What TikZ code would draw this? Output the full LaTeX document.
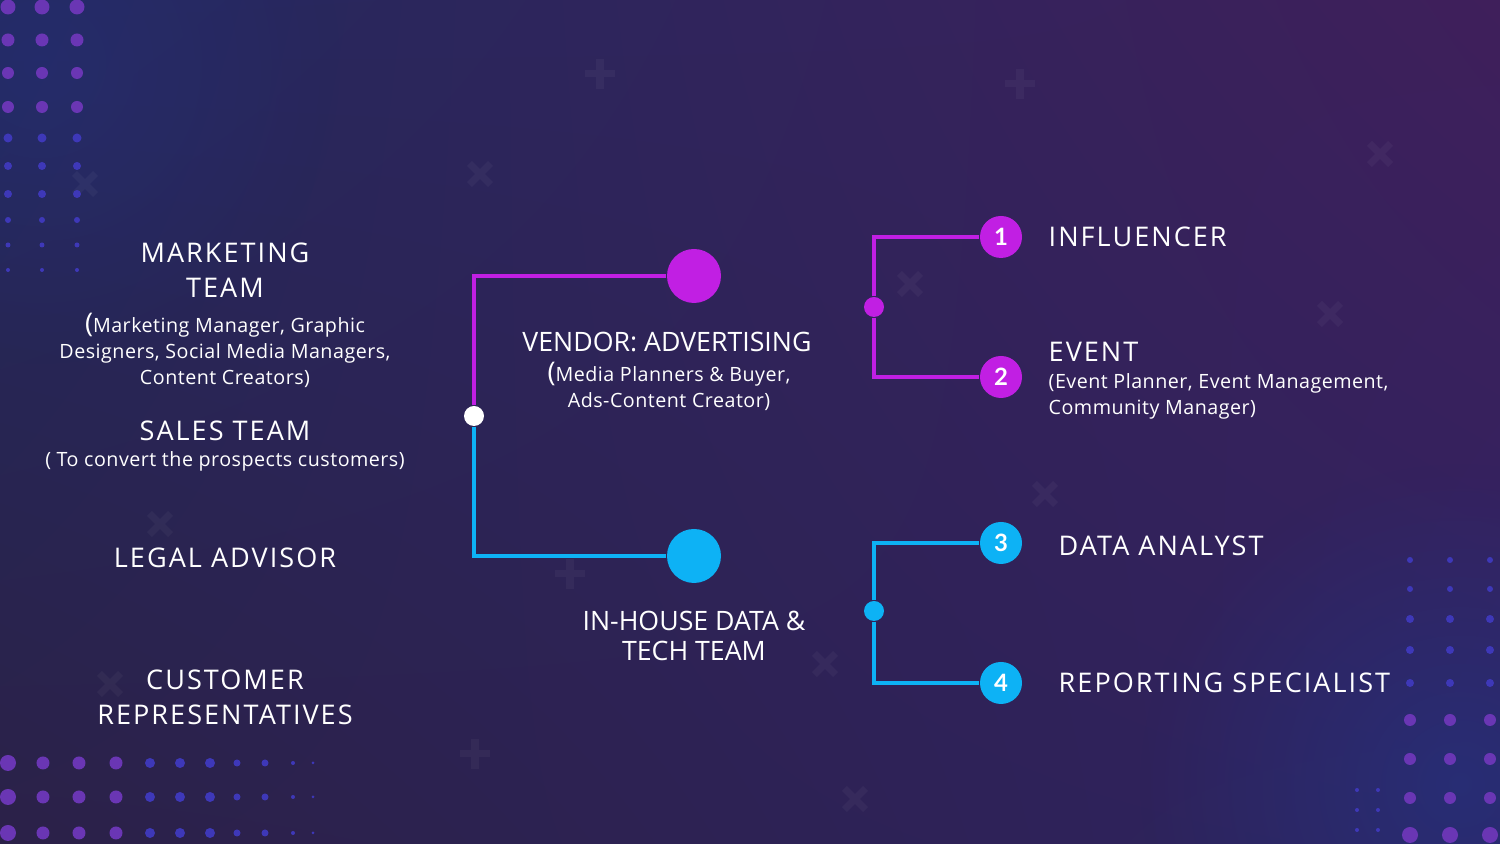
\documentclass[tikz,border=0pt]{standalone}
\usepackage{fontspec}
\setmainfont{Open Sans}
\newfontfamily\headfont{Open Sans}[LetterSpace=7.5]
\newfontfamily\subfont{Open Sans}[LetterSpace=2.5]
\newfontfamily\numfont{Lato}
\usetikzlibrary{fadings,shadings}
\definecolor{bgtl}{HTML}{23295D}
\definecolor{bgtr}{HTML}{3F1F5B}
\definecolor{bgbl}{HTML}{2B2148}
\definecolor{bgbr}{HTML}{2F2360}
\definecolor{glowblue}{HTML}{26307A}
\definecolor{dotp}{HTML}{6A36B4}
\definecolor{dotb}{HTML}{3E38B8}
\definecolor{vpurp}{HTML}{C11FE3}
\definecolor{vblue}{HTML}{0DB2F5}
\tikzfading[name=glow,inner color=transparent!20,outer color=transparent!100]
\begin{document}
\begin{tikzpicture}[x=1cm,y=1cm,
head/.style={text=white,font=\headfont\fontsize{7.7}{10}\selectfont,align=center,inner sep=0},
midhead/.style={text=white,font=\fontsize{7.6}{8.5}\selectfont,align=center,inner sep=0},
sub/.style={text=white,font=\subfont\fontsize{5.6}{7.3}\selectfont,align=center,inner sep=0},
pline/.style={draw=vpurp,line width=0.9pt},
bline/.style={draw=vblue,line width=0.9pt},
big/.style={circle,minimum size=5.4mm,inner sep=0},
num/.style={circle,minimum size=4.2mm,inner sep=0,text=white,font=\numfont\fontsize{6.8}{7}\selectfont\bfseries},
joint/.style={circle,minimum size=2mm,inner sep=0},
faint/.style={draw=white,opacity=0.04,line width=2pt}]
\useasboundingbox (0,0) rectangle (15,8.44);
% background
\shade[upper left=bgtl,upper right=bgtr,lower left=bgbl,lower right=bgbr] (0,0) rectangle (15,8.44);
\fill[glowblue,path fading=glow] (14.6,0.6) circle (3.2);
\fill[glowblue,path fading=glow,opacity=0.6] (0.4,7.8) circle (3);
\foreach \x/\y/\a in {6.0/7.7/0,4.8/6.7/45,10.2/7.6/0,13.8/6.9/45,13.3/5.3/45,9.1/5.6/45,
  1.6/3.2/45,10.45/3.5/45,5.7/2.7/0,4.75/0.9/0,8.25/1.8/45,1.1/1.6/45,8.55/0.45/45,0.85/6.6/45}
  \draw[faint,rotate around={\a:(\x,\y)}] (\x-0.15,\y) -- (\x+0.15,\y) (\x,\y-0.15) -- (\x,\y+0.15);
% dot grids
\foreach \y/\r/\c in {0.07/0.075/dotp,0.40/0.065/dotp,0.73/0.06/dotp,1.07/0.06/dotp,1.38/0.045/dotb,
  1.66/0.04/dotb,1.94/0.04/dotb,2.20/0.03/dotb,2.45/0.025/dotb,2.70/0.02/dotb}
  \foreach \x in {0.08,0.42,0.77} \fill[\c] (\x,{8.44-\y}) circle (\r);
\foreach \y in {7.63,7.97,8.33}
  \foreach \x/\r/\c in {0.08/0.08/dotp,0.43/0.065/dotp,0.79/0.065/dotp,1.16/0.065/dotp,1.50/0.05/dotb,
    1.80/0.05/dotb,2.10/0.05/dotb,2.37/0.035/dotb,2.65/0.035/dotb,2.93/0.02/dotb,3.13/0.015/dotb}
  \fill[\c] (\x,{8.44-\y}) circle (\r);
\foreach \y/\r/\c in {5.60/0.03/dotb,5.89/0.03/dotb,6.19/0.04/dotb,6.50/0.04/dotb,6.83/0.04/dotb,
  7.20/0.06/dotp,7.59/0.06/dotp,7.98/0.06/dotp,8.35/0.08/dotp}
  \foreach \x in {14.10,14.50,14.90} \fill[\c] (\x,{8.44-\y}) circle (\r);
\foreach \y in {7.90,8.10,8.30} \foreach \x in {13.57,13.78} \fill[dotb] (\x,{8.44-\y}) circle (0.02);
% left column
\node[head] (mkt) at (2.25,5.735) {MARKETING\\TEAM};
\node[sub] (mktsub) at (2.25,4.935) {{\headfont\fontsize{7.7}{0}\selectfont(}Marketing Manager, Graphic\\Designers, Social Media Managers,\\Content Creators)};
\node[head] (sales) at (2.25,4.13) {SALES TEAM};
\node[sub] (salessub) at (2.25,3.83) {( To convert the prospects customers)};
\node[head] (legal) at (2.25,2.86) {LEGAL ADVISOR};
\node[head] (cust) at (2.25,1.47) {CUSTOMER\\REPRESENTATIVES};
% middle tree
\node[joint,fill=white] (root) at (4.74,4.28) {};
\node[big,fill=vpurp] (vend) at (6.94,5.68) {};
\node[big,fill=vblue] (inh) at (6.94,2.88) {};
\draw[pline] (root) |- (vend);
\draw[bline] (root) |- (inh);
\node[midhead] (vendlbl) at (6.67,5.02) {VENDOR: ADVERTISING};
\node[sub] (vendsub) at (6.69,4.575) {{\headfont\fontsize{7.7}{0}\selectfont(}Media Planners \& Buyer,\\Ads-Content Creator)};
\node[midhead] (inhlbl) at (6.94,2.08) {IN-HOUSE DATA \&\\TECH TEAM};
% right branches
\node[joint,fill=vpurp] (pj) at (8.74,5.37) {};
\node[num,fill=vpurp] (n1) at (10.01,6.07) {1};
\node[num,fill=vpurp] (n2) at (10.01,4.67) {2};
\draw[pline] (pj) |- (n1); \draw[pline] (pj) |- (n2);
\node[joint,fill=vblue] (bj) at (8.74,2.33) {};
\node[num,fill=vblue] (n3) at (10.01,3.01) {3};
\node[num,fill=vblue] (n4) at (10.01,1.61) {4};
\draw[bline] (bj) |- (n3); \draw[bline] (bj) |- (n4);
\node[head,anchor=west] (infl) at (10.48,6.07) {INFLUENCER};
\node[head,anchor=west] (event) at (10.48,4.92) {EVENT};
\node[sub,anchor=west,align=left] (eventsub) at (10.48,4.475) {(Event Planner, Event Management,\\Community Manager)};
\node[head,anchor=west] (data) at (10.58,2.98) {DATA ANALYST};
\node[head,anchor=west] (rep) at (10.58,1.61) {REPORTING SPECIALIST};
\end{tikzpicture}
\end{document}
